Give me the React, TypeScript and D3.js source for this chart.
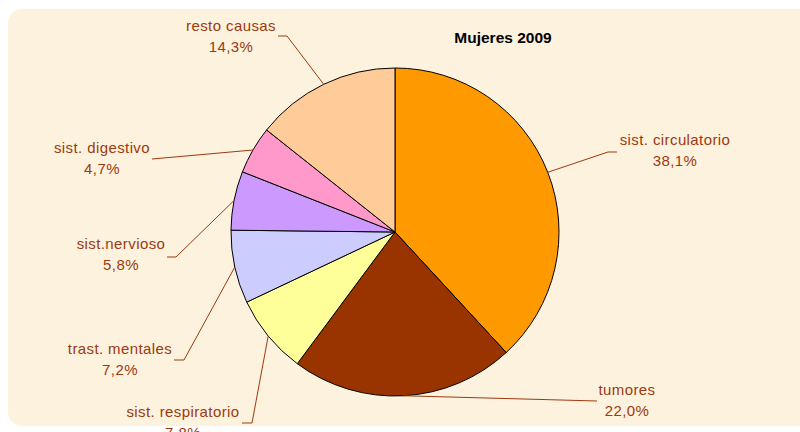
import React from "react";
import * as d3 from "d3";

const categories = [
  "sist. circulatorio",
  "tumores",
  "sist. respiratorio",
  "trast. mentales",
  "sist.nervioso",
  "sist. digestivo",
  "resto causas",
];
const values = [38.1, 22.0, 7.8, 7.2, 5.8, 4.7, 14.3];
const valueLabels = ["38,1%", "22,0%", "7,8%", "7,2%", "5,8%", "4,7%", "14,3%"];
const colors = ["#FF9900", "#993300", "#FFFF99", "#CCCCFF", "#CC99FF", "#FF99CC", "#FFCC99"];
const title = "Mujeres 2009";

// layout: label center x, first baseline y, elbow point, end of leader
const labelLayout = [
  { x: 675, y: 145, elbow: [608, 152], end: [617, 152] },
  { x: 627, y: 395, elbow: null, end: [597, 401] },
  { x: 183, y: 417, elbow: [252, 423], end: [242, 423] },
  { x: 120, y: 354, elbow: [184, 360], end: [174, 360] },
  { x: 121, y: 249, elbow: [176, 257], end: [167, 257] },
  { x: 102, y: 153, elbow: null, end: [152, 159] },
  { x: 231, y: 31, elbow: [287, 36], end: [278, 36] },
];

const W = 800;
const H = 432;
const cx = 395;
const cy = 232;
const R = 164;
const labelColor = "#9C3A10";

export default function App() {
  const pie = d3.pie<number>().sort(null).value((d) => d);
  const arcs = pie(values);
  const arcGen = d3.arc<d3.PieArcDatum<number>>().innerRadius(0).outerRadius(R);

  return (
    <svg
      width={W}
      height={H}
      style={{ position: "absolute", left: 0, top: 0 }}
      fontFamily="'Liberation Sans', Arial, sans-serif"
    >
      <rect x={8} y={9} width={W + 20} height={417} rx={14} fill="#FCF2DD" />
      <text x={503} y={43} textAnchor="middle" fontSize={15.5} fontWeight="bold" fill="#000">
        {title}
      </text>
      <g transform={`translate(${cx},${cy})`}>
        {arcs.map((a, i) => (
          <path key={i} d={arcGen(a) || ""} fill={colors[i]} stroke="#000" strokeWidth={1} />
        ))}
      </g>
      {arcs.map((a, i) => {
        const mid = (a.startAngle + a.endAngle) / 2;
        const px = cx + R * Math.sin(mid);
        const py = cy - R * Math.cos(mid);
        const L = labelLayout[i];
        const pts: number[][] = [[px, py]];
        if (L.elbow) pts.push(L.elbow);
        pts.push(L.end);
        const line = d3.line()(pts as [number, number][]) || "";
        return (
          <g key={i}>
            <path d={line} fill="none" stroke={labelColor} strokeWidth={1} />
            <text
              x={L.x}
              y={L.y}
              textAnchor="middle"
              fontSize={15}
              letterSpacing={0.4}
              fill={labelColor}
            >
              {categories[i]}
            </text>
            <text
              x={L.x}
              y={L.y + 21}
              textAnchor="middle"
              fontSize={15}
              letterSpacing={0.4}
              fill={labelColor}
            >
              {valueLabels[i]}
            </text>
          </g>
        );
      })}
    </svg>
  );
}
